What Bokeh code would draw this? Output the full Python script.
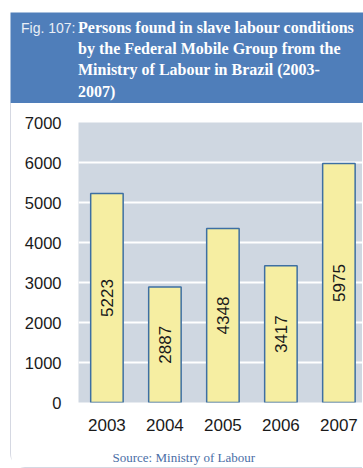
import math
from bokeh.plotting import figure
from bokeh.layouts import column, row
from bokeh.models import Range1d, FixedTicker, ColumnDataSource
from bokeh.core.properties import value
from bokeh.embed import file_html
from bokeh.resources import INLINE

# ---- data ----
years = ["2003", "2004", "2005", "2006", "2007"]
persons = [5223, 2887, 4348, 3417, 5975]
y_ticks = [0, 1000, 2000, 3000, 4000, 5000, 6000, 7000]
title_prefix = "Fig. 107:"
title_lines = [
    "Persons found in slave labour conditions",
    "by the Federal Mobile Group from the",
    "Ministry of Labour in Brazil (2003-",
    "2007)",
]
source_text = "Source: Ministry of Labour"

HEADER_BLUE = "#4f7eba"
PLOT_BG = "#cfd7e1"
BAR_FILL = "#f6eea2"
BAR_LINE = "#3d6fa3"
BORDER = "#d5d8e2"

# ---- header band (its frame is the blue band; y measured downward in px) ----
hdr = figure(width=363, height=103, output_backend="svg", toolbar_location=None,
             x_range=Range1d(0, 353), y_range=Range1d(91, 0),
             x_axis_location=None, y_axis_location=None,
             min_border_left=10, min_border_right=0, min_border_top=12, min_border_bottom=0,
             background_fill_color=HEADER_BLUE, border_fill_color="white",
             outline_line_color=None)
hdr.grid.visible = False
line_y = [15.0 + 21.2 * i for i in range(len(title_lines))]
hdr.text(x=[10.5], y=[line_y[0]], text=[title_prefix], text_color="#e9eef6",
         text_font=value("Liberation Sans"), text_font_size="14px",
         text_baseline="alphabetic", text_align="left")
hdr.text(x=[67.5] * len(title_lines), y=line_y, text=title_lines, text_color="white",
         text_font=value("Liberation Serif"), text_font_style="bold",
         text_font_size="16px", text_baseline="alphabetic", text_align="left")

# ---- main chart ----
xs = [i + 0.5 for i in range(len(years))]
src = ColumnDataSource(dict(x=xs, top=persons, mid=[v / 2 for v in persons],
                            lab=[str(v) for v in persons]))

p = figure(width=351, height=338, output_backend="svg", toolbar_location=None,
           x_range=Range1d(0.01, 4.907), y_range=Range1d(0, 7000),
           min_border_left=67, min_border_right=0, min_border_top=19, min_border_bottom=39,
           background_fill_color=PLOT_BG, border_fill_color="white", outline_line_color=None)

p.vbar(x="x", top="top", width=0.56, source=src, fill_color=BAR_FILL,
       line_color=BAR_LINE, line_width=1.5)
p.text(x="x", y="mid", text="lab", source=src, angle=math.pi / 2,
       text_align="center", text_baseline="middle", text_font=value("Liberation Sans"),
       text_font_size="17px", text_color="#1a1a1a")

p.xgrid.visible = False
p.ygrid.grid_line_color = "white"
p.ygrid.grid_line_width = 2
p.ygrid.ticker = FixedTicker(ticks=y_ticks)

p.yaxis.ticker = FixedTicker(ticks=y_ticks)
p.xaxis.ticker = FixedTicker(ticks=xs)
p.xaxis.major_label_overrides = {x: y for x, y in zip(xs, years)}
for ax in (p.xaxis, p.yaxis):
    ax.axis_line_color = None
    ax.major_tick_line_color = None
    ax.minor_tick_line_color = None
    ax.major_label_text_font = "Liberation Sans"
    ax.major_label_text_color = "#1a1a1a"
p.yaxis.major_label_text_font_size = "16.5px"
p.xaxis.major_label_text_font_size = "17px"
p.yaxis.major_label_standoff = 11
p.xaxis.major_label_standoff = 10

# ---- footer with the source note (frame = whole canvas, y downward in px) ----
ftr = figure(width=351, height=26, output_backend="svg", toolbar_location=None,
             x_range=Range1d(0, 351), y_range=Range1d(26, 0),
             x_axis_location=None, y_axis_location=None,
             min_border_left=0, min_border_right=0, min_border_top=0, min_border_bottom=0,
             background_fill_color="white", border_fill_color="white",
             outline_line_color=None)
ftr.grid.visible = False
ftr.text(x=[101], y=[16], text=[source_text], text_color="#4a6ea6",
         text_font=value("Liberation Serif"), text_font_size="13px",
         text_baseline="alphabetic", text_align="left")

body = column(p, row(ftr),
              styles={"margin-left": "10px", "border-left": "1.5px solid " + BORDER,
                      "border-bottom": "1px solid " + BORDER,
                      "border-bottom-left-radius": "15px"})
layout = column(row(hdr), body)

with open("out.html", "w") as f:
    f.write(file_html(layout, INLINE))
